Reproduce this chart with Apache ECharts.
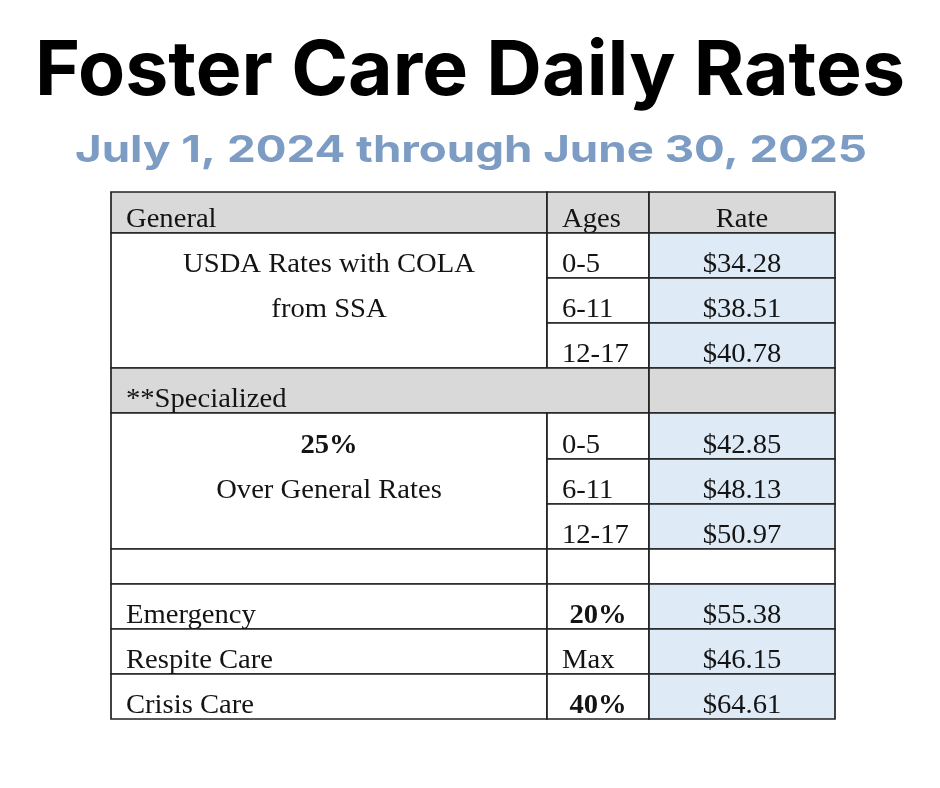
<!DOCTYPE html>
<html>
<head>
<meta charset="utf-8">
<script src="https://cdn.jsdelivr.net/npm/echarts@6/dist/echarts.min.js"></script>
<style>html,body{margin:0;padding:0;background:#fff}#main{width:940px;height:788px}</style>
</head>
<body>
<div id="main"></div>
<script>
// ---- data ----
const titleText = 'Foster Care Daily Rates';
const subtitleText = 'July 1, 2024 through June 30, 2025';
const headers = ['General', 'Ages', 'Rate'];
const generalLabel = ['USDA Rates with COLA', 'from SSA'];
const generalAges = ['0-5', '6-11', '12-17'];
const generalRates = [34.28, 38.51, 40.78];
const specializedHeader = '**Specialized';
const specializedLabel = ['25%', 'Over General Rates'];
const specializedAges = ['0-5', '6-11', '12-17'];
const specializedRates = [42.85, 48.13, 50.97];
const otherCategories = ['Emergency', 'Respite Care', 'Crisis Care'];
const otherFactors = ['20%', 'Max', '40%'];
const otherFactorBold = [true, false, true];
const otherRates = [55.38, 46.15, 64.61];

// ---- layout ----
const colWidths = [436, 102, 186];
const rowHeights = [41, 45, 45, 45, 45, 46, 45, 45, 35, 45, 45, 45];
const colEdges = [0];
colWidths.forEach(w => colEdges.push(colEdges[colEdges.length - 1] + w));
const rowEdges = [0];
rowHeights.forEach(h => rowEdges.push(rowEdges[rowEdges.length - 1] + h));
const GRAY = '#d9d9d9', BLUE = '#deeaf6', WHITE = '#ffffff';
const money = v => '$' + v.toFixed(2);

// cells: [c0, c1, r0, r1, fill]
const cells = [];
const texts = []; // [c0, c1, row, text, align, bold]
cells.push([0, 1, 0, 1, GRAY], [1, 2, 0, 1, GRAY], [2, 3, 0, 1, GRAY]);
texts.push([0, 1, 0, headers[0], 'left', false], [1, 2, 0, headers[1], 'left', false], [2, 3, 0, headers[2], 'center', false]);
cells.push([0, 1, 1, 4, WHITE]);
generalLabel.forEach((t, i) => texts.push([0, 1, 1 + i, t, 'center', false]));
generalAges.forEach((a, i) => {
  cells.push([1, 2, 1 + i, 2 + i, WHITE], [2, 3, 1 + i, 2 + i, BLUE]);
  texts.push([1, 2, 1 + i, a, 'left', false], [2, 3, 1 + i, money(generalRates[i]), 'center', false]);
});
cells.push([0, 2, 4, 5, GRAY], [2, 3, 4, 5, GRAY]);
texts.push([0, 2, 4, specializedHeader, 'left', false]);
cells.push([0, 1, 5, 8, WHITE]);
specializedLabel.forEach((t, i) => texts.push([0, 1, 5 + i, t, 'center', i === 0]));
specializedAges.forEach((a, i) => {
  cells.push([1, 2, 5 + i, 6 + i, WHITE], [2, 3, 5 + i, 6 + i, BLUE]);
  texts.push([1, 2, 5 + i, a, 'left', false], [2, 3, 5 + i, money(specializedRates[i]), 'center', false]);
});
cells.push([0, 1, 8, 9, WHITE], [1, 2, 8, 9, WHITE], [2, 3, 8, 9, WHITE]);
otherCategories.forEach((c, i) => {
  const r = 9 + i;
  cells.push([0, 1, r, r + 1, WHITE], [1, 2, r, r + 1, WHITE], [2, 3, r, r + 1, BLUE]);
  texts.push([0, 1, r, c, 'left', false]);
  texts.push([1, 2, r, otherFactors[i], otherFactorBold[i] ? 'center' : 'left', otherFactorBold[i]]);
  texts.push([2, 3, r, money(otherRates[i]), 'center', false]);
});

// measure helper for heading stretch
const mctx = document.createElement('canvas').getContext('2d');
function widthOf(text, font) { mctx.font = font; return mctx.measureText(text).width; }
const TITLE_FONT = '700 76px Inter';
const SUB_FONT = '700 37px Inter';
const titleScale = 870 / widthOf(titleText, TITLE_FONT);
const subScale = 792 / widthOf(subtitleText, SUB_FONT);

const chart = echarts.init(document.getElementById('main'), null, { renderer: 'canvas' });
const TABLE_FONT = '"Liberation Serif", "Times New Roman", serif';
chart.setOption({
  animation: false,
  backgroundColor: '#ffffff',
  graphic: [
    { type: 'text', x: 470, y: 72, scaleX: titleScale,
      style: { x: 0, y: 0, text: titleText, font: TITLE_FONT, fill: '#000000', textAlign: 'center', textVerticalAlign: 'middle' } },
    { type: 'text', x: 471, y: 151, scaleX: subScale,
      style: { x: 0, y: 0, text: subtitleText, font: SUB_FONT, fill: '#7c9cc4', textAlign: 'center', textVerticalAlign: 'middle' } }
  ],
  grid: { left: 111, top: 192, width: 724, height: 527 },
  xAxis: { type: 'value', min: 0, max: colEdges[3], show: false },
  yAxis: { type: 'value', min: 0, max: rowEdges[rowEdges.length - 1], inverse: true, show: false },
  series: [
    {
      type: 'custom',
      data: cells.map(c => [c[0], c[1], c[2], c[3]]),
      renderItem: function (params, api) {
        const c = cells[params.dataIndex];
        const p0 = api.coord([colEdges[api.value(0)], rowEdges[api.value(2)]]);
        const p1 = api.coord([colEdges[api.value(1)], rowEdges[api.value(3)]]);
        return {
          type: 'rect',
          shape: { x: p0[0], y: p0[1], width: p1[0] - p0[0], height: p1[1] - p0[1] },
          style: { fill: c[4], stroke: '#222222', lineWidth: 1.7 }
        };
      }
    },
    {
      type: 'custom',
      data: texts.map(t => [t[0], t[1], t[2]]),
      z: 3,
      renderItem: function (params, api) {
        const t = texts[params.dataIndex];
        const p0 = api.coord([colEdges[api.value(0)], rowEdges[api.value(2)]]);
        const p1 = api.coord([colEdges[api.value(1)], rowEdges[api.value(2) + 1]]);
        const x = t[4] === 'center' ? (p0[0] + p1[0]) / 2 : p0[0] + 15;
        const y = p1[1] - 13;
        return {
          type: 'text',
          x: x, y: y, scaleX: 1.08,
          style: {
            x: 0, y: 0, text: t[3], fill: '#141414',
            font: (t[5] ? 'bold ' : '') + '26.5px ' + TABLE_FONT,
            textAlign: t[4], textVerticalAlign: 'middle'
          }
        };
      }
    }
  ]
});
</script>
</body>
</html>
